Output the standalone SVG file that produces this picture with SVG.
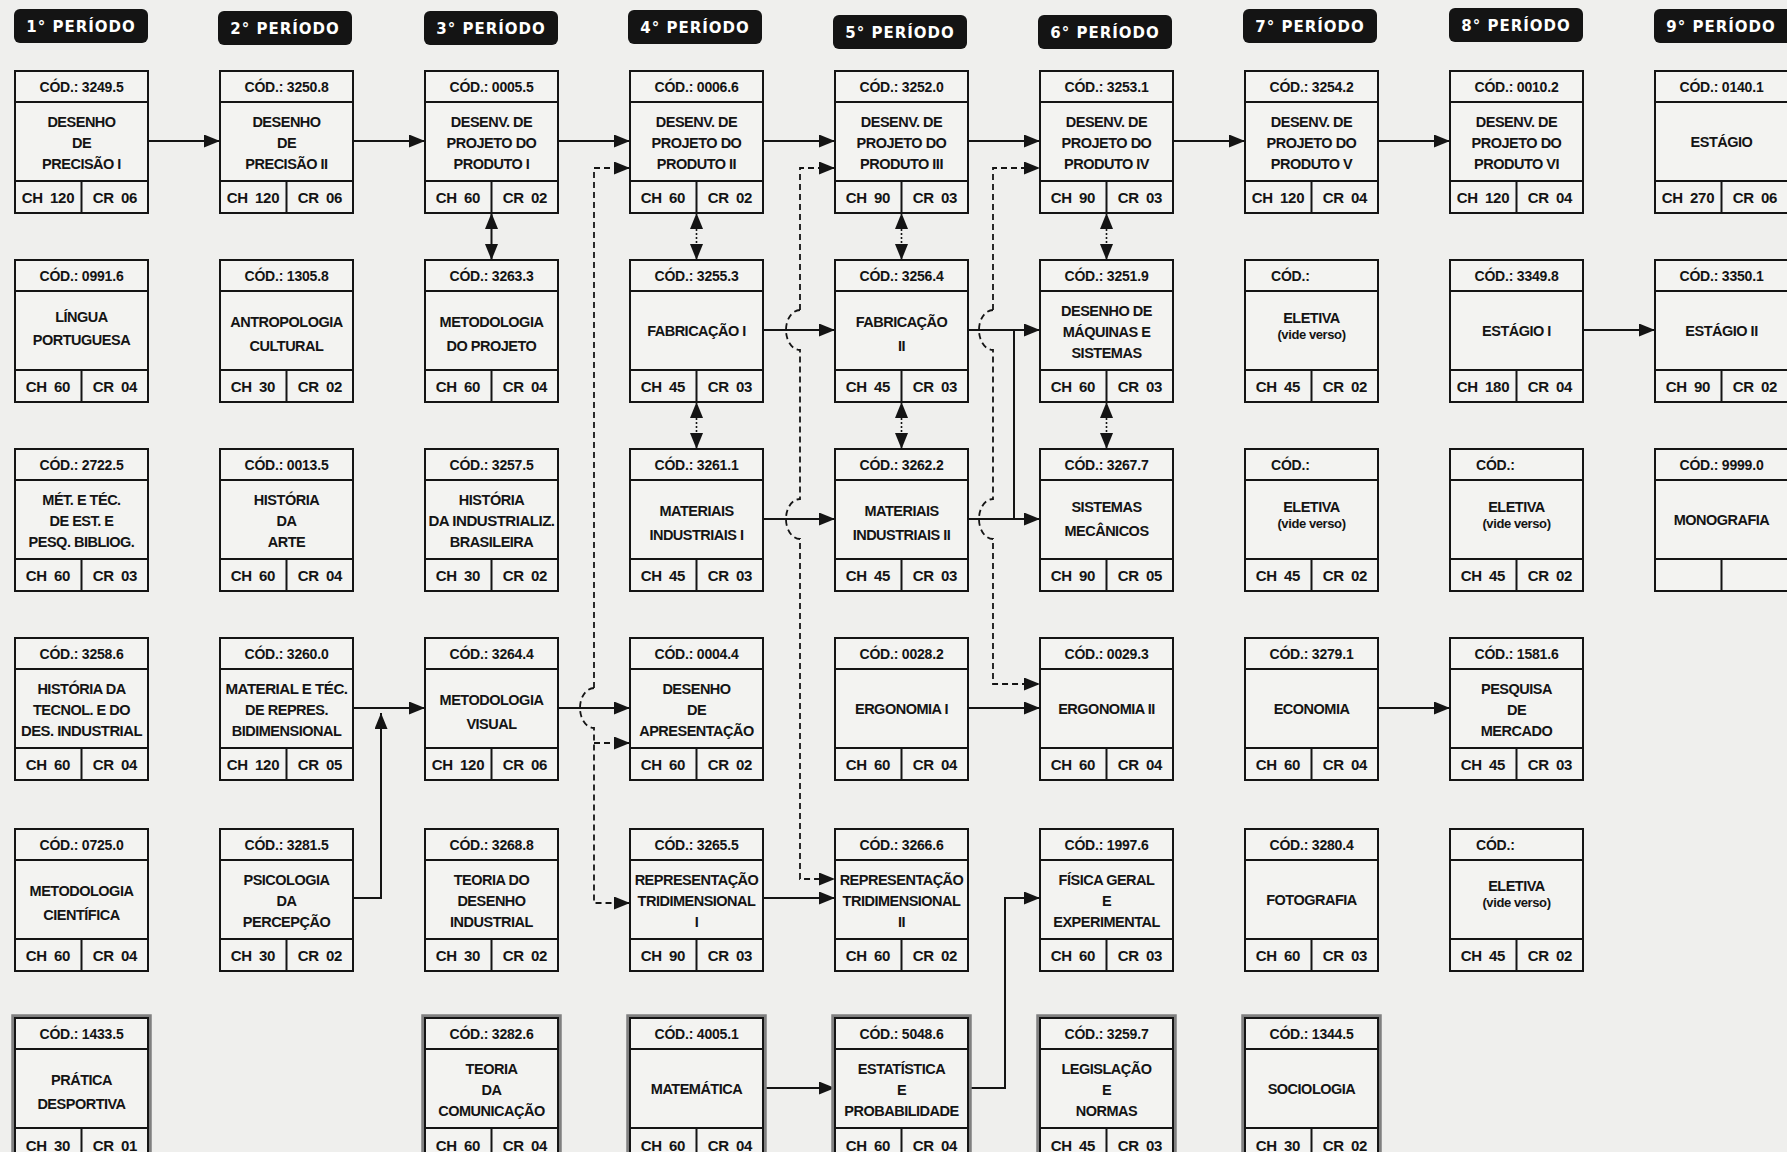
<svg xmlns="http://www.w3.org/2000/svg" xmlns:xlink="http://www.w3.org/1999/xlink" width="1787" height="1152" viewBox="0 0 1787 1152">
<style>
.hdr rect{fill:#141414}
.hdr text{fill:#fff;font-family:"DejaVu Sans","Liberation Sans",sans-serif;font-weight:bold;font-size:15px;letter-spacing:1px;text-anchor:middle}
text{font-family:"Liberation Sans",Arial,sans-serif;font-weight:bold;fill:#141414}
.cod{font-size:14px;text-anchor:middle;letter-spacing:-0.2px}
.cods{font-size:14px;text-anchor:start;letter-spacing:-0.2px}
.t{font-size:14.5px;text-anchor:middle;letter-spacing:-0.5px}
.v{font-size:13px;text-anchor:middle;letter-spacing:-0.4px}
.ch{font-size:15px;text-anchor:middle;letter-spacing:-0.2px;word-spacing:3px}
.ln{stroke:#141414;stroke-width:2;fill:none}
.dash{stroke:#141414;stroke-width:1.8;fill:none;stroke-dasharray:6 4}
.dot{stroke:#141414;stroke-width:1.6;fill:none;stroke-dasharray:2 2}
</style>
<defs>
<g id="frame"><rect x="0" y="0" width="133" height="142" fill="#f3f3f1" stroke="#141414" stroke-width="2"/><path d="M0,31H133M0,110H133M66.5,110V142" stroke="#141414" stroke-width="2" fill="none"/></g>
<g id="frameG"><rect x="-2" y="-2" width="137" height="146" fill="none" stroke="#808080" stroke-width="3.5"/><use href="#frame"/></g>
<marker id="ah" markerUnits="userSpaceOnUse" markerWidth="16" markerHeight="13" refX="16" refY="6.5" orient="auto-start-reverse" viewBox="0 0 16 13"><path d="M0,0L16,6.5L0,13z" fill="#141414"/></marker>
</defs>
<rect width="1787" height="1152" fill="#efefed"/>

<g id="headers" class="hdr">
<g id="h1"><rect x="14" y="9" width="134" height="34" rx="6"/><text x="81" y="32">1° PERÍODO</text></g>
<g id="h2"><rect x="218" y="11" width="134" height="34" rx="6"/><text x="285" y="34">2° PERÍODO</text></g>
<g id="h3"><rect x="424" y="11" width="134" height="34" rx="6"/><text x="491" y="34">3° PERÍODO</text></g>
<g id="h4"><rect x="628" y="10" width="134" height="34" rx="6"/><text x="695" y="33">4° PERÍODO</text></g>
<g id="h5"><rect x="833" y="15" width="134" height="34" rx="6"/><text x="900" y="38">5° PERÍODO</text></g>
<g id="h6"><rect x="1038" y="15" width="134" height="34" rx="6"/><text x="1105" y="38">6° PERÍODO</text></g>
<g id="h7"><rect x="1243" y="9" width="134" height="34" rx="6"/><text x="1310" y="32">7° PERÍODO</text></g>
<g id="h8"><rect x="1449" y="8" width="134" height="34" rx="6"/><text x="1516" y="31">8° PERÍODO</text></g>
<g id="h9"><rect x="1654" y="9" width="140" height="34" rx="6"/><text x="1721" y="32">9° PERÍODO</text></g>
</g>

<g id="connectors">
<path class="ln" marker-end="url(#ah)" d="M148,141H220"/>
<path class="ln" marker-end="url(#ah)" d="M353,141H425"/>
<path class="ln" marker-end="url(#ah)" d="M558,141H630"/>
<path class="ln" marker-end="url(#ah)" d="M763,141H835"/>
<path class="ln" marker-end="url(#ah)" d="M968,141H1040"/>
<path class="ln" marker-end="url(#ah)" d="M1173,141H1245"/>
<path class="ln" marker-end="url(#ah)" d="M1378,141H1450"/>
<path class="ln" marker-end="url(#ah)" d="M763,330H835"/>
<path class="ln" marker-end="url(#ah)" d="M968,330H1040"/>
<path class="ln" marker-end="url(#ah)" d="M1583,330H1655"/>
<path class="ln" marker-end="url(#ah)" d="M763,519H835"/>
<path class="ln" marker-end="url(#ah)" d="M968,519H1040"/>
<path class="ln" d="M1014,330V519"/>
<path class="ln" marker-end="url(#ah)" d="M353,708H425"/>
<path class="ln" marker-end="url(#ah)" d="M558,708H630"/>
<path class="ln" marker-end="url(#ah)" d="M968,708H1040"/>
<path class="ln" marker-end="url(#ah)" d="M1378,708H1450"/>
<path class="ln" marker-end="url(#ah)" d="M353,898H381V713"/>
<path class="ln" marker-end="url(#ah)" d="M763,898H835"/>
<path class="ln" marker-end="url(#ah)" d="M763,1088H835"/>
<path class="ln" marker-end="url(#ah)" d="M968,1088H1005V898H1040"/>
<path class="ln" marker-start="url(#ah)" marker-end="url(#ah)" d="M491.5,213V260"/>
<path class="dot" marker-start="url(#ah)" marker-end="url(#ah)" d="M696.5,213V260"/>
<path class="dot" marker-start="url(#ah)" marker-end="url(#ah)" d="M696.5,402V449"/>
<path class="dot" marker-start="url(#ah)" marker-end="url(#ah)" d="M901.5,213V260"/>
<path class="dot" marker-start="url(#ah)" marker-end="url(#ah)" d="M901.5,402V449"/>
<path class="dot" marker-start="url(#ah)" marker-end="url(#ah)" d="M1106.5,213V260"/>
<path class="dot" marker-start="url(#ah)" marker-end="url(#ah)" d="M1106.5,402V449"/>
<path class="dash" marker-end="url(#ah)" d="M594,688V168H630"/>
<path class="dash" marker-end="url(#ah)" d="M594,688A14,20 0 0 0 594,728V903H630"/>
<path class="dash" marker-end="url(#ah)" d="M594,743H630"/>
<path class="dash" marker-end="url(#ah)" d="M800,310V168H835"/>
<path class="dash" marker-end="url(#ah)" d="M800,310A14,20 0 0 0 800,350V499A14,20 0 0 0 800,539V879H835"/>
<path class="dash" marker-end="url(#ah)" d="M993,310V168H1040"/>
<path class="dash" marker-end="url(#ah)" d="M993,310A14,20 0 0 0 993,350V499A14,20 0 0 0 993,539V684H1040"/>
</g>

<!-- Column 1 -->
<g id="c1r1"><use href="#frame" x="15" y="71"/><text class="cod" x="81.5" y="92">CÓD.: 3249.5</text><text class="t"><tspan x="81.5" y="127">DESENHO</tspan><tspan x="81.5" y="148">DE</tspan><tspan x="81.5" y="169">PRECISÃO I</tspan></text><text class="ch" x="48" y="203">CH 120</text><text class="ch" x="115" y="203">CR 06</text></g>
<g id="c1r2"><use href="#frame" x="15" y="260"/><text class="cod" x="81.5" y="281">CÓD.: 0991.6</text><text class="t"><tspan x="81.5" y="322">LÍNGUA</tspan><tspan x="81.5" y="345">PORTUGUESA</tspan></text><text class="ch" x="48" y="392">CH 60</text><text class="ch" x="115" y="392">CR 04</text></g>
<g id="c1r3"><use href="#frame" x="15" y="449"/><text class="cod" x="81.5" y="470">CÓD.: 2722.5</text><text class="t"><tspan x="81.5" y="505">MÉT. E TÉC.</tspan><tspan x="81.5" y="526">DE EST. E</tspan><tspan x="81.5" y="547">PESQ. BIBLIOG.</tspan></text><text class="ch" x="48" y="581">CH 60</text><text class="ch" x="115" y="581">CR 03</text></g>
<g id="c1r4"><use href="#frame" x="15" y="638"/><text class="cod" x="81.5" y="659">CÓD.: 3258.6</text><text class="t"><tspan x="81.5" y="694">HISTÓRIA DA</tspan><tspan x="81.5" y="715">TECNOL. E DO</tspan></text><text class="t" x="81.5" y="736" textLength="121" lengthAdjust="spacingAndGlyphs">DES. INDUSTRIAL</text><text class="ch" x="48" y="770">CH 60</text><text class="ch" x="115" y="770">CR 04</text></g>
<g id="c1r5"><use href="#frame" x="15" y="829"/><text class="cod" x="81.5" y="850">CÓD.: 0725.0</text><text class="t"><tspan x="81.5" y="896">METODOLOGIA</tspan><tspan x="81.5" y="920">CIENTÍFICA</tspan></text><text class="ch" x="48" y="961">CH 60</text><text class="ch" x="115" y="961">CR 04</text></g>
<g id="c1r6"><use href="#frameG" x="15" y="1018"/><text class="cod" x="81.5" y="1039">CÓD.: 1433.5</text><text class="t"><tspan x="81.5" y="1085">PRÁTICA</tspan><tspan x="81.5" y="1109">DESPORTIVA</tspan></text><text class="ch" x="48" y="1151">CH 30</text><text class="ch" x="115" y="1151">CR 01</text></g>

<!-- Column 2 -->
<g id="c2r1"><use href="#frame" x="220" y="71"/><text class="cod" x="286.5" y="92">CÓD.: 3250.8</text><text class="t"><tspan x="286.5" y="127">DESENHO</tspan><tspan x="286.5" y="148">DE</tspan><tspan x="286.5" y="169">PRECISÃO II</tspan></text><text class="ch" x="253" y="203">CH 120</text><text class="ch" x="320" y="203">CR 06</text></g>
<g id="c2r2"><use href="#frame" x="220" y="260"/><text class="cod" x="286.5" y="281">CÓD.: 1305.8</text><text class="t"><tspan x="286.5" y="327">ANTROPOLOGIA</tspan><tspan x="286.5" y="351">CULTURAL</tspan></text><text class="ch" x="253" y="392">CH 30</text><text class="ch" x="320" y="392">CR 02</text></g>
<g id="c2r3"><use href="#frame" x="220" y="449"/><text class="cod" x="286.5" y="470">CÓD.: 0013.5</text><text class="t"><tspan x="286.5" y="505">HISTÓRIA</tspan><tspan x="286.5" y="526">DA</tspan><tspan x="286.5" y="547">ARTE</tspan></text><text class="ch" x="253" y="581">CH 60</text><text class="ch" x="320" y="581">CR 04</text></g>
<g id="c2r4"><use href="#frame" x="220" y="638"/><text class="cod" x="286.5" y="659">CÓD.: 3260.0</text><text class="t" x="286.5" y="694" textLength="122" lengthAdjust="spacingAndGlyphs">MATERIAL E TÉC.</text><text class="t"><tspan x="286.5" y="715">DE REPRES.</tspan><tspan x="286.5" y="736">BIDIMENSIONAL</tspan></text><text class="ch" x="253" y="770">CH 120</text><text class="ch" x="320" y="770">CR 05</text></g>
<g id="c2r5"><use href="#frame" x="220" y="829"/><text class="cod" x="286.5" y="850">CÓD.: 3281.5</text><text class="t"><tspan x="286.5" y="885">PSICOLOGIA</tspan><tspan x="286.5" y="906">DA</tspan><tspan x="286.5" y="927">PERCEPÇÃO</tspan></text><text class="ch" x="253" y="961">CH 30</text><text class="ch" x="320" y="961">CR 02</text></g>

<!-- Column 3 -->
<g id="c3r1"><use href="#frame" x="425" y="71"/><text class="cod" x="491.5" y="92">CÓD.: 0005.5</text><text class="t"><tspan x="491.5" y="127">DESENV. DE</tspan><tspan x="491.5" y="148">PROJETO DO</tspan><tspan x="491.5" y="169">PRODUTO I</tspan></text><text class="ch" x="458" y="203">CH 60</text><text class="ch" x="525" y="203">CR 02</text></g>
<g id="c3r2"><use href="#frame" x="425" y="260"/><text class="cod" x="491.5" y="281">CÓD.: 3263.3</text><text class="t"><tspan x="491.5" y="327">METODOLOGIA</tspan><tspan x="491.5" y="351">DO PROJETO</tspan></text><text class="ch" x="458" y="392">CH 60</text><text class="ch" x="525" y="392">CR 04</text></g>
<g id="c3r3"><use href="#frame" x="425" y="449"/><text class="cod" x="491.5" y="470">CÓD.: 3257.5</text><text class="t"><tspan x="491.5" y="505">HISTÓRIA</tspan><tspan x="491.5" y="547">BRASILEIRA</tspan></text><text class="t" x="491.5" y="526" textLength="126" lengthAdjust="spacingAndGlyphs">DA INDUSTRIALIZ.</text><text class="ch" x="458" y="581">CH 30</text><text class="ch" x="525" y="581">CR 02</text></g>
<g id="c3r4"><use href="#frame" x="425" y="638"/><text class="cod" x="491.5" y="659">CÓD.: 3264.4</text><text class="t"><tspan x="491.5" y="705">METODOLOGIA</tspan><tspan x="491.5" y="729">VISUAL</tspan></text><text class="ch" x="458" y="770">CH 120</text><text class="ch" x="525" y="770">CR 06</text></g>
<g id="c3r5"><use href="#frame" x="425" y="829"/><text class="cod" x="491.5" y="850">CÓD.: 3268.8</text><text class="t"><tspan x="491.5" y="885">TEORIA DO</tspan><tspan x="491.5" y="906">DESENHO</tspan><tspan x="491.5" y="927">INDUSTRIAL</tspan></text><text class="ch" x="458" y="961">CH 30</text><text class="ch" x="525" y="961">CR 02</text></g>
<g id="c3r6"><use href="#frameG" x="425" y="1018"/><text class="cod" x="491.5" y="1039">CÓD.: 3282.6</text><text class="t"><tspan x="491.5" y="1074">TEORIA</tspan><tspan x="491.5" y="1095">DA</tspan><tspan x="491.5" y="1116">COMUNICAÇÃO</tspan></text><text class="ch" x="458" y="1151">CH 60</text><text class="ch" x="525" y="1151">CR 04</text></g>

<!-- Column 4 -->
<g id="c4r1"><use href="#frame" x="630" y="71"/><text class="cod" x="696.5" y="92">CÓD.: 0006.6</text><text class="t"><tspan x="696.5" y="127">DESENV. DE</tspan><tspan x="696.5" y="148">PROJETO DO</tspan><tspan x="696.5" y="169">PRODUTO II</tspan></text><text class="ch" x="663" y="203">CH 60</text><text class="ch" x="730" y="203">CR 02</text></g>
<g id="c4r2"><use href="#frame" x="630" y="260"/><text class="cod" x="696.5" y="281">CÓD.: 3255.3</text><text class="t" x="696.5" y="336">FABRICAÇÃO I</text><text class="ch" x="663" y="392">CH 45</text><text class="ch" x="730" y="392">CR 03</text></g>
<g id="c4r3"><use href="#frame" x="630" y="449"/><text class="cod" x="696.5" y="470">CÓD.: 3261.1</text><text class="t"><tspan x="696.5" y="516">MATERIAIS</tspan><tspan x="696.5" y="540">INDUSTRIAIS I</tspan></text><text class="ch" x="663" y="581">CH 45</text><text class="ch" x="730" y="581">CR 03</text></g>
<g id="c4r4"><use href="#frame" x="630" y="638"/><text class="cod" x="696.5" y="659">CÓD.: 0004.4</text><text class="t"><tspan x="696.5" y="694">DESENHO</tspan><tspan x="696.5" y="715">DE</tspan><tspan x="696.5" y="736">APRESENTAÇÃO</tspan></text><text class="ch" x="663" y="770">CH 60</text><text class="ch" x="730" y="770">CR 02</text></g>
<g id="c4r5"><use href="#frame" x="630" y="829"/><text class="cod" x="696.5" y="850">CÓD.: 3265.5</text><text class="t"><tspan x="696.5" y="885">REPRESENTAÇÃO</tspan><tspan x="696.5" y="906">TRIDIMENSIONAL</tspan><tspan x="696.5" y="927">I</tspan></text><text class="ch" x="663" y="961">CH 90</text><text class="ch" x="730" y="961">CR 03</text></g>
<g id="c4r6"><use href="#frameG" x="630" y="1018"/><text class="cod" x="696.5" y="1039">CÓD.: 4005.1</text><text class="t" x="696.5" y="1094">MATEMÁTICA</text><text class="ch" x="663" y="1151">CH 60</text><text class="ch" x="730" y="1151">CR 04</text></g>

<!-- Column 5 -->
<g id="c5r1"><use href="#frame" x="835" y="71"/><text class="cod" x="901.5" y="92">CÓD.: 3252.0</text><text class="t"><tspan x="901.5" y="127">DESENV. DE</tspan><tspan x="901.5" y="148">PROJETO DO</tspan><tspan x="901.5" y="169">PRODUTO III</tspan></text><text class="ch" x="868" y="203">CH 90</text><text class="ch" x="935" y="203">CR 03</text></g>
<g id="c5r2"><use href="#frame" x="835" y="260"/><text class="cod" x="901.5" y="281">CÓD.: 3256.4</text><text class="t"><tspan x="901.5" y="327">FABRICAÇÃO</tspan><tspan x="901.5" y="351">II</tspan></text><text class="ch" x="868" y="392">CH 45</text><text class="ch" x="935" y="392">CR 03</text></g>
<g id="c5r3"><use href="#frame" x="835" y="449"/><text class="cod" x="901.5" y="470">CÓD.: 3262.2</text><text class="t"><tspan x="901.5" y="516">MATERIAIS</tspan><tspan x="901.5" y="540">INDUSTRIAIS II</tspan></text><text class="ch" x="868" y="581">CH 45</text><text class="ch" x="935" y="581">CR 03</text></g>
<g id="c5r4"><use href="#frame" x="835" y="638"/><text class="cod" x="901.5" y="659">CÓD.: 0028.2</text><text class="t" x="901.5" y="714">ERGONOMIA I</text><text class="ch" x="868" y="770">CH 60</text><text class="ch" x="935" y="770">CR 04</text></g>
<g id="c5r5"><use href="#frame" x="835" y="829"/><text class="cod" x="901.5" y="850">CÓD.: 3266.6</text><text class="t"><tspan x="901.5" y="885">REPRESENTAÇÃO</tspan><tspan x="901.5" y="906">TRIDIMENSIONAL</tspan><tspan x="901.5" y="927">II</tspan></text><text class="ch" x="868" y="961">CH 60</text><text class="ch" x="935" y="961">CR 02</text></g>
<g id="c5r6"><use href="#frameG" x="835" y="1018"/><text class="cod" x="901.5" y="1039">CÓD.: 5048.6</text><text class="t"><tspan x="901.5" y="1074">ESTATÍSTICA</tspan><tspan x="901.5" y="1095">E</tspan><tspan x="901.5" y="1116">PROBABILIDADE</tspan></text><text class="ch" x="868" y="1151">CH 60</text><text class="ch" x="935" y="1151">CR 04</text></g>

<!-- Column 6 -->
<g id="c6r1"><use href="#frame" x="1040" y="71"/><text class="cod" x="1106.5" y="92">CÓD.: 3253.1</text><text class="t"><tspan x="1106.5" y="127">DESENV. DE</tspan><tspan x="1106.5" y="148">PROJETO DO</tspan><tspan x="1106.5" y="169">PRODUTO IV</tspan></text><text class="ch" x="1073" y="203">CH 90</text><text class="ch" x="1140" y="203">CR 03</text></g>
<g id="c6r2"><use href="#frame" x="1040" y="260"/><text class="cod" x="1106.5" y="281">CÓD.: 3251.9</text><text class="t"><tspan x="1106.5" y="316">DESENHO DE</tspan><tspan x="1106.5" y="337">MÁQUINAS E</tspan><tspan x="1106.5" y="358">SISTEMAS</tspan></text><text class="ch" x="1073" y="392">CH 60</text><text class="ch" x="1140" y="392">CR 03</text></g>
<g id="c6r3"><use href="#frame" x="1040" y="449"/><text class="cod" x="1106.5" y="470">CÓD.: 3267.7</text><text class="t"><tspan x="1106.5" y="512">SISTEMAS</tspan><tspan x="1106.5" y="536">MECÂNICOS</tspan></text><text class="ch" x="1073" y="581">CH 90</text><text class="ch" x="1140" y="581">CR 05</text></g>
<g id="c6r4"><use href="#frame" x="1040" y="638"/><text class="cod" x="1106.5" y="659">CÓD.: 0029.3</text><text class="t" x="1106.5" y="714">ERGONOMIA II</text><text class="ch" x="1073" y="770">CH 60</text><text class="ch" x="1140" y="770">CR 04</text></g>
<g id="c6r5"><use href="#frame" x="1040" y="829"/><text class="cod" x="1106.5" y="850">CÓD.: 1997.6</text><text class="t"><tspan x="1106.5" y="885">FÍSICA GERAL</tspan><tspan x="1106.5" y="906">E</tspan><tspan x="1106.5" y="927">EXPERIMENTAL</tspan></text><text class="ch" x="1073" y="961">CH 60</text><text class="ch" x="1140" y="961">CR 03</text></g>
<g id="c6r6"><use href="#frameG" x="1040" y="1018"/><text class="cod" x="1106.5" y="1039">CÓD.: 3259.7</text><text class="t"><tspan x="1106.5" y="1074">LEGISLAÇÃO</tspan><tspan x="1106.5" y="1095">E</tspan><tspan x="1106.5" y="1116">NORMAS</tspan></text><text class="ch" x="1073" y="1151">CH 45</text><text class="ch" x="1140" y="1151">CR 03</text></g>

<!-- Column 7 -->
<g id="c7r1"><use href="#frame" x="1245" y="71"/><text class="cod" x="1311.5" y="92">CÓD.: 3254.2</text><text class="t"><tspan x="1311.5" y="127">DESENV. DE</tspan><tspan x="1311.5" y="148">PROJETO DO</tspan><tspan x="1311.5" y="169">PRODUTO V</tspan></text><text class="ch" x="1278" y="203">CH 120</text><text class="ch" x="1345" y="203">CR 04</text></g>
<g id="c7r2"><use href="#frame" x="1245" y="260"/><text class="cods" x="1271" y="281">CÓD.:</text><text class="t" x="1311.5" y="323">ELETIVA</text><text class="v" x="1311.5" y="339">(vide verso)</text><text class="ch" x="1278" y="392">CH 45</text><text class="ch" x="1345" y="392">CR 02</text></g>
<g id="c7r3"><use href="#frame" x="1245" y="449"/><text class="cods" x="1271" y="470">CÓD.:</text><text class="t" x="1311.5" y="512">ELETIVA</text><text class="v" x="1311.5" y="528">(vide verso)</text><text class="ch" x="1278" y="581">CH 45</text><text class="ch" x="1345" y="581">CR 02</text></g>
<g id="c7r4"><use href="#frame" x="1245" y="638"/><text class="cod" x="1311.5" y="659">CÓD.: 3279.1</text><text class="t" x="1311.5" y="714">ECONOMIA</text><text class="ch" x="1278" y="770">CH 60</text><text class="ch" x="1345" y="770">CR 04</text></g>
<g id="c7r5"><use href="#frame" x="1245" y="829"/><text class="cod" x="1311.5" y="850">CÓD.: 3280.4</text><text class="t" x="1311.5" y="905">FOTOGRAFIA</text><text class="ch" x="1278" y="961">CH 60</text><text class="ch" x="1345" y="961">CR 03</text></g>
<g id="c7r6"><use href="#frameG" x="1245" y="1018"/><text class="cod" x="1311.5" y="1039">CÓD.: 1344.5</text><text class="t" x="1311.5" y="1094">SOCIOLOGIA</text><text class="ch" x="1278" y="1151">CH 30</text><text class="ch" x="1345" y="1151">CR 02</text></g>

<!-- Column 8 -->
<g id="c8r1"><use href="#frame" x="1450" y="71"/><text class="cod" x="1516.5" y="92">CÓD.: 0010.2</text><text class="t"><tspan x="1516.5" y="127">DESENV. DE</tspan><tspan x="1516.5" y="148">PROJETO DO</tspan><tspan x="1516.5" y="169">PRODUTO VI</tspan></text><text class="ch" x="1483" y="203">CH 120</text><text class="ch" x="1550" y="203">CR 04</text></g>
<g id="c8r2"><use href="#frame" x="1450" y="260"/><text class="cod" x="1516.5" y="281">CÓD.: 3349.8</text><text class="t" x="1516.5" y="336">ESTÁGIO I</text><text class="ch" x="1483" y="392">CH 180</text><text class="ch" x="1550" y="392">CR 04</text></g>
<g id="c8r3"><use href="#frame" x="1450" y="449"/><text class="cods" x="1476" y="470">CÓD.:</text><text class="t" x="1516.5" y="512">ELETIVA</text><text class="v" x="1516.5" y="528">(vide verso)</text><text class="ch" x="1483" y="581">CH 45</text><text class="ch" x="1550" y="581">CR 02</text></g>
<g id="c8r4"><use href="#frame" x="1450" y="638"/><text class="cod" x="1516.5" y="659">CÓD.: 1581.6</text><text class="t"><tspan x="1516.5" y="694">PESQUISA</tspan><tspan x="1516.5" y="715">DE</tspan><tspan x="1516.5" y="736">MERCADO</tspan></text><text class="ch" x="1483" y="770">CH 45</text><text class="ch" x="1550" y="770">CR 03</text></g>
<g id="c8r5"><use href="#frame" x="1450" y="829"/><text class="cods" x="1476" y="850">CÓD.:</text><text class="t" x="1516.5" y="891">ELETIVA</text><text class="v" x="1516.5" y="907">(vide verso)</text><text class="ch" x="1483" y="961">CH 45</text><text class="ch" x="1550" y="961">CR 02</text></g>

<!-- Column 9 -->
<g id="c9r1"><use href="#frame" x="1655" y="71"/><text class="cod" x="1721.5" y="92">CÓD.: 0140.1</text><text class="t" x="1721.5" y="147">ESTÁGIO</text><text class="ch" x="1688" y="203">CH 270</text><text class="ch" x="1755" y="203">CR 06</text></g>
<g id="c9r2"><use href="#frame" x="1655" y="260"/><text class="cod" x="1721.5" y="281">CÓD.: 3350.1</text><text class="t" x="1721.5" y="336">ESTÁGIO II</text><text class="ch" x="1688" y="392">CH 90</text><text class="ch" x="1755" y="392">CR 02</text></g>
<g id="c9r3"><use href="#frame" x="1655" y="449"/><text class="cod" x="1721.5" y="470">CÓD.: 9999.0</text><text class="t" x="1721.5" y="525">MONOGRAFIA</text></g>
</svg>
